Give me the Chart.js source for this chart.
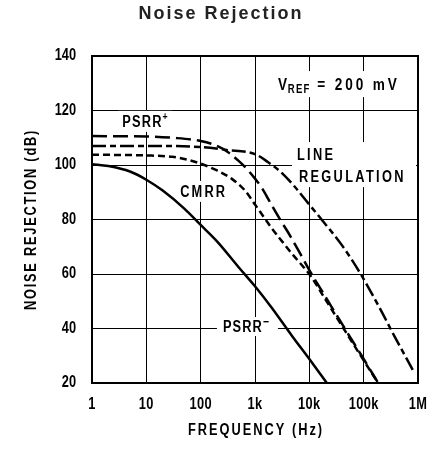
<!DOCTYPE html>
<html lang="en">
<head>
  <meta charset="UTF-8" />
  <title>Noise Rejection</title>
  <script src="https://cdn.jsdelivr.net/npm/chart.js"></script>
  <style>
    body { margin: 0; background: #fff; }
    #wrap { position: relative; width: 432px; height: 456px; }
    canvas { position: absolute; left: 0; top: 0; }
    h1 {
      position: absolute;
      top: 3px;
      left: 2px;
      width: 438px;
      margin: 0;
      text-align: center;
      font: bold 18px "Liberation Sans", Arial, sans-serif;
      letter-spacing: 2px;
      color: #222;
    }
  </style>
</head>
<body>
  <div id="wrap">
    <canvas id="noiseChart" width="432" height="456"></canvas>
    <h1>Noise Rejection</h1>
  </div>

  <script>
    // axis ticks
    const decades = [1, 10, 100, 1000, 10000, 100000, 1000000];
    const freqLabels = ["1", "10", "100", "1k", "10k", "100k", "1M"];

    // PSRR- (solid)
    const psrrMinusFreq = [1, 2, 5, 10, 20, 50, 100, 200, 500, 1000, 2000, 5000, 10000, 21000];
    const psrrMinusDb = [100.3, 99.6, 97.6, 94.6, 90.6, 84, 78, 72, 62.5, 55.5, 47.8, 36.8, 28.8, 20];

    // PSRR+ (long dash)
    const psrrPlusFreq = [1, 10, 30, 100, 200, 320, 500, 750, 1000, 1300, 2000, 3000, 4000, 7000, 11000, 20000, 50000, 100000, 185000];
    const psrrPlusDb = [110.6, 110.5, 110, 108.8, 107, 104.7, 101.5, 98, 95, 92, 85.5, 79.5, 75.5, 67, 60, 51.5, 38.5, 28.8, 20];

    // CMRR (short dash)
    const cmrrFreq = [1, 10, 30, 50, 100, 200, 370, 650, 1000, 1500, 2000, 3000, 5000, 8000, 10300, 20000, 50000, 100000, 190000];
    const cmrrDb = [103.8, 103.5, 103, 102.2, 100.5, 98, 95, 90.7, 85.5, 80.5, 77, 72.5, 67, 62.3, 59.6, 50.5, 37.8, 28.3, 19.6];

    // line regulation (dash-dot)
    const lineRegFreq = [1, 10, 100, 300, 1000, 1750, 3000, 5400, 9500, 16800, 40000, 88000, 200000, 372000, 550000, 820000];
    const lineRegDb = [107, 107, 106.6, 105.5, 104, 101, 97.4, 92, 86, 80, 70.5, 60, 47.3, 37, 30.8, 24.4];

    const face = "'Liberation Sans', Arial, sans-serif";

    function pts(f, v) {
      return f.map((x, i) => ({ x: x, y: v[i] }));
    }

    function curve(label, f, v, dash) {
      return {
        label: label,
        data: pts(f, v),
        borderColor: "#000",
        borderWidth: 2.5,
        borderDash: dash,
        pointRadius: 0,
        cubicInterpolationMode: "monotone",
        fill: false
      };
    }

    // condensed bold text (no narrow font installed, so squeeze it)
    function say(ctx, text, x, y, size, spacing, align, baseline) {
      ctx.save();
      ctx.translate(x, y);
      ctx.scale(0.8, 1);
      ctx.font = "bold " + size + "px " + face;
      ctx.letterSpacing = spacing + "px";
      ctx.textAlign = align || "left";
      ctx.textBaseline = baseline || "alphabetic";
      ctx.fillStyle = "#000";
      ctx.fillText(text, 0, 0);
      const w = ctx.measureText(text).width * 0.8;
      ctx.restore();
      return w;
    }

    function box(ctx, x0, y0, x1, y1) {
      ctx.fillStyle = "#fff";
      ctx.fillRect(x0, y0, x1 - x0, y1 - y0);
    }

    const notes = {
      id: "notes",
      beforeDatasetsDraw(chart) {
        const { ctx, chartArea: a, scales: { x, y } } = chart;
        ctx.save();

        // PSRR+
        let px = x.getPixelForValue(3.6), py = y.getPixelForValue(114);
        box(ctx, px - 4, py - 16, px + 50, py + 5);
        let w = say(ctx, "PSRR", px, py, 16, 1.5);
        say(ctx, "+", px + w, py - 7, 11, 0);

        // CMRR
        px = x.getPixelForValue(42); py = y.getPixelForValue(88.3);
        box(ctx, px - 4, py - 16, px + 51, py + 5);
        say(ctx, "CMRR", px, py, 16, 2.7);

        // LINE REGULATION
        px = x.getPixelForValue(5900); py = y.getPixelForValue(101.8);
        box(ctx, px - 5, py - 18, a.right - 2, py + 27);
        say(ctx, "LINE", px, py, 16, 2.9);
        say(ctx, "REGULATION", px + 2, y.getPixelForValue(93.8), 16, 2.9);

        // VREF = 200 mV
        px = x.getPixelForValue(2650); py = y.getPixelForValue(127.5);
        box(ctx, px - 4, py - 19, px + 124, py + 7);
        w = say(ctx, "V", px, py, 17, 1);
        let w2 = say(ctx, "REF", px + w, py + 3, 12, 1.5);
        say(ctx, " = 200 mV", px + w + w2, py, 17, 3.6);

        // PSRR-
        px = x.getPixelForValue(257); py = y.getPixelForValue(38.7);
        box(ctx, px - 6, py - 15, px + 55, py + 4);
        w = say(ctx, "PSRR", px, py, 16, 1.4);
        say(ctx, "\u2212", px + w, py - 6, 13, 0);

        // plot frame
        ctx.strokeStyle = "#000";
        ctx.lineWidth = 2;
        ctx.strokeRect(a.left, a.top, a.right - a.left, a.bottom - a.top);
        ctx.restore();
      },
      afterDraw(chart) {
        const { ctx, chartArea: a, scales: { x, y } } = chart;

        x.ticks.forEach((t, i) => {
          say(ctx, freqLabels[i], x.getPixelForValue(t.value), 405, 16, 0.5, "center", "middle");
        });
        y.ticks.forEach(t => {
          say(ctx, String(t.value), 76, y.getPixelForValue(t.value), 16, 0, "right", "middle");
        });

        say(ctx, "FREQUENCY (Hz)", (a.left + a.right) / 2 + 1, 431, 16, 2.5, "center", "middle");
        ctx.save();
        ctx.translate(32, (a.top + a.bottom) / 2);
        ctx.rotate(-Math.PI / 2);
        say(ctx, "NOISE REJECTION (dB)", 0, 0, 16, 2.2, "center", "middle");
        ctx.restore();
      }
    };

    new Chart(document.getElementById("noiseChart"), {
      type: "line",
      data: {
        datasets: [
          curve("PSRR-", psrrMinusFreq, psrrMinusDb, []),
          curve("PSRR+", psrrPlusFreq, psrrPlusDb, [15, 6]),
          curve("CMRR", cmrrFreq, cmrrDb, [7, 4]),
          curve("LINE REGULATION", lineRegFreq, lineRegDb, [14, 4, 6, 4])
        ]
      },
      options: {
        responsive: false,
        animation: false,
        layout: { padding: { left: 0, right: 14, top: 56, bottom: 0 } },
        plugins: {
          legend: { display: false },
          tooltip: { enabled: false }
        },
        scales: {
          x: {
            type: "logarithmic",
            min: 1,
            max: 1000000,
            afterBuildTicks: s => { s.ticks = decades.map(v => ({ value: v })); },
            afterFit: s => { s.height = 73; },
            grid: { color: "#000", lineWidth: 1, drawTicks: false },
            border: { display: false },
            ticks: { display: false }
          },
          y: {
            min: 20,
            max: 140,
            afterFit: s => { s.width = 92; },
            grid: { color: "#000", lineWidth: 1, drawTicks: false },
            border: { display: false },
            ticks: { display: false, stepSize: 20 }
          }
        }
      },
      plugins: [notes]
    });
  </script>
</body>
</html>
